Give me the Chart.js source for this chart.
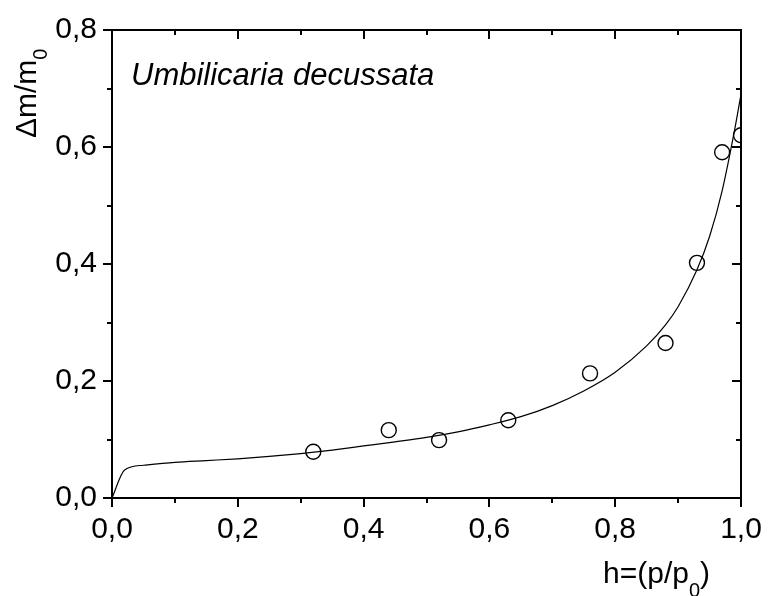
<!DOCTYPE html>
<html>
<head>
<meta charset="utf-8">
<script src="https://cdn.jsdelivr.net/npm/chart.js@4"></script>
<style>
  html, body { margin: 0; padding: 0; background: #fff; }
  canvas { display: block; }
</style>
</head>
<body>
<canvas id="sorption" width="768" height="596"></canvas>
<script>
// measured sorption points
const humidity = [0.32, 0.44, 0.52, 0.63, 0.76, 0.88, 0.93, 0.97, 1.0];
const massGain = [0.079, 0.116, 0.099, 0.133, 0.213, 0.265, 0.402, 0.591, 0.62];

// fitted isotherm curve
const fitH = [0, 0.02, 0.05, 0.1, 0.15, 0.2, 0.25, 0.3, 0.35, 0.4, 0.45, 0.5, 0.55, 0.6, 0.65, 0.7, 0.75, 0.8, 0.85, 0.88, 0.9, 0.93, 0.95, 0.97, 0.99, 1.0];
const fitM = [0, 0.048, 0.056, 0.061, 0.064, 0.067, 0.071, 0.076, 0.082, 0.089, 0.096, 0.1035, 0.113, 0.125, 0.139, 0.158, 0.183, 0.215, 0.26, 0.296, 0.327, 0.39, 0.447, 0.525, 0.63, 0.69];

const xTicks = [0, 0.2, 0.4, 0.6, 0.8, 1.0];
const yTicks = [0, 0.2, 0.4, 0.6, 0.8];

const FONT = '"Liberation Sans", Arial, sans-serif';

function comma(v) {
    return v.toFixed(1).replace('.', ',');
}

// frame with Origin-style ticks: outward on left/bottom, inward on top/right
const framePlugin = {
    id: 'frame',
    afterDraw: function (chart) {
        const ctx = chart.ctx;
        const a = chart.chartArea;
        const xs = chart.scales.x;
        const ys = chart.scales.y;
        ctx.save();
        ctx.strokeStyle = '#000';
        ctx.lineWidth = 2;
        ctx.strokeRect(a.left, a.top, a.right - a.left, a.bottom - a.top);

        ctx.beginPath();
        for (let i = 0; i <= 10; i++) {
            let v = i / 10;
            let len = i % 2 === 0 ? 9 : 5;
            let px = Math.round(xs.getPixelForValue(v));
            ctx.moveTo(px, a.bottom);
            ctx.lineTo(px, a.bottom + len);
            ctx.moveTo(px, a.top);
            ctx.lineTo(px, a.top + len);
        }
        for (let i = 0; i <= 8; i++) {
            let v = i / 10;
            let len = i % 2 === 0 ? 9 : 5;
            let py = Math.round(ys.getPixelForValue(v));
            ctx.moveTo(a.left, py);
            ctx.lineTo(a.left - len, py);
            ctx.moveTo(a.right, py);
            ctx.lineTo(a.right - len, py);
        }
        ctx.stroke();

        ctx.fillStyle = '#000';
        ctx.textBaseline = 'alphabetic';

        // species name
        ctx.font = 'italic 31px ' + FONT;
        ctx.textAlign = 'left';
        ctx.fillText('Umbilicaria decussata', 131, 85);

        // x axis title h=(p/p0)
        ctx.font = '30px ' + FONT;
        let x = 603;
        ctx.fillText('h=(p/p', x, 583);
        x += ctx.measureText('h=(p/p').width;
        ctx.font = '20px ' + FONT;
        ctx.fillText('0', x, 597);
        x += ctx.measureText('0').width;
        ctx.font = '30px ' + FONT;
        ctx.fillText(')', x, 583);

        // y axis title Δm/m0, rotated
        ctx.translate(36, 138);
        ctx.rotate(-Math.PI / 2);
        ctx.font = '30px ' + FONT;
        ctx.fillText('\u0394m/m', 0, 0);
        let w = ctx.measureText('\u0394m/m').width;
        ctx.font = '20px ' + FONT;
        ctx.fillText('0', w, 11);
        ctx.restore();
    }
};

new Chart(document.getElementById('sorption').getContext('2d'), {
    type: 'scatter',
    data: {
        datasets: [
            {
                type: 'line',
                data: fitH.map(function (h, i) { return { x: h, y: fitM[i] }; }),
                borderColor: '#000',
                borderWidth: 1.2,
                pointRadius: 0,
                cubicInterpolationMode: 'monotone',
                fill: false,
                clip: 0
            },
            {
                data: humidity.map(function (h, i) { return { x: h, y: massGain[i] }; }),
                pointStyle: 'circle',
                pointRadius: 7.5,
                pointBorderWidth: 1.4,
                pointBorderColor: '#000',
                pointBackgroundColor: 'rgba(0,0,0,0)',
                clip: 0
            }
        ]
    },
    options: {
        responsive: false,
        devicePixelRatio: 1,
        animation: false,
        layout: { padding: { left: 0, right: 27, top: 30, bottom: 0 } },
        plugins: {
            legend: { display: false },
            tooltip: { enabled: false }
        },
        scales: {
            x: {
                type: 'linear',
                min: 0,
                max: 1,
                afterBuildTicks: function (scale) {
                    scale.ticks = xTicks.map(function (v) { return { value: v }; });
                },
                afterFit: function (scale) {
                    scale.height = 98;
                    scale.paddingLeft = 0;
                    scale.paddingRight = 0;
                },
                grid: { display: false, drawTicks: false },
                border: { display: false },
                ticks: {
                    color: '#000',
                    padding: 14,
                    font: { family: FONT, size: 30 },
                    maxRotation: 0,
                    callback: function (v) { return comma(v); }
                }
            },
            y: {
                type: 'linear',
                min: 0,
                max: 0.8,
                afterBuildTicks: function (scale) {
                    scale.ticks = yTicks.map(function (v) { return { value: v }; });
                },
                afterFit: function (scale) {
                    scale.width = 112;
                    scale.paddingTop = 0;
                    scale.paddingBottom = 0;
                },
                grid: { display: false, drawTicks: false },
                border: { display: false },
                ticks: {
                    color: '#000',
                    padding: 15,
                    font: { family: FONT, size: 30 },
                    callback: function (v) { return comma(v); }
                }
            }
        }
    },
    plugins: [framePlugin]
});
</script>
</body>
</html>
